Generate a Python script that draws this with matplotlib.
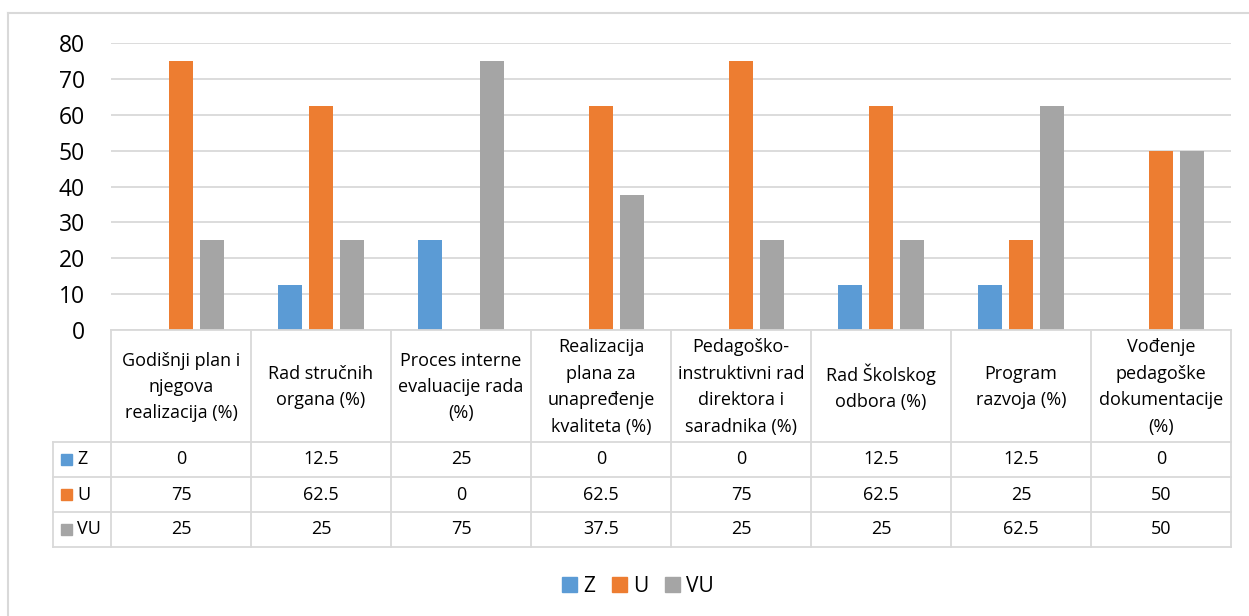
import matplotlib
matplotlib.use("Agg")
import matplotlib.pyplot as plt
import numpy as np
from matplotlib.patches import Rectangle
from matplotlib.lines import Line2D

plt.rcParams['font.family'] = ['Open Sans', 'DejaVu Sans']

categories = [
    "Godišnji plan i\nnjegova\nrealizacija (%)",
    "Rad stručnih\norgana (%)",
    "Proces interne\nevaluacije rada\n(%)",
    "Realizacija\nplana za\nunapređenje\nkvaliteta (%)",
    "Pedagoško-\ninstruktivni rad\ndirektora i\nsaradnika (%)",
    "Rad Školskog\nodbora (%)",
    "Program\nrazvoja (%)",
    "Vođenje\npedagoške\ndokumentacije\n(%)",
]
series_names = ["Z", "U", "VU"]
z_values = [0, 12.5, 25, 0, 0, 12.5, 12.5, 0]
u_values = [75, 62.5, 0, 62.5, 75, 62.5, 25, 50]
vu_values = [25, 25, 75, 37.5, 25, 25, 62.5, 50]
yticks = [0, 10, 20, 30, 40, 50, 60, 70, 80]
colors = ["#5B9BD5", "#ED7D31", "#A5A5A5"]

W, H = 1249, 616
fig = plt.figure(figsize=(W / 100, H / 100), dpi=100)
grid_c = "#D9D9D9"

def fx(px):
    return px / W

def fy(py):
    return 1 - py / H

ax_l, ax_r, ax_t, ax_b = 111, 1231, 43, 330
ax = fig.add_axes([fx(ax_l), fy(ax_b), fx(ax_r - ax_l), (ax_b - ax_t) / H])
n = len(categories)
x = np.arange(n)
bw = 0.174
step = 0.22
all_vals = [z_values, u_values, vu_values]
for k, (vals, c) in enumerate(zip(all_vals, colors)):
    ax.bar(x + (k - 1) * step, vals, width=bw, color=c, zorder=3)
ax.set_xlim(-0.5, n - 0.5)
ax.set_ylim(0, 80)
ax.set_yticks(yticks)
ax.yaxis.grid(True, color=grid_c, linewidth=1.3, zorder=0)
ax.set_xticks([])
for s in ax.spines.values():
    s.set_visible(False)
ax.tick_params(axis='y', length=0, pad=18.7, labelsize=16.5, labelcolor="#000000")

# table axes, x in category units, y in pixels
left_col = 53
cat_w = (ax_r - ax_l) / n
tab_top, hdr_bot, tab_bot = 330, 442, 547
row_h = (tab_bot - hdr_bot) / 3
tax = fig.add_axes([fx(left_col), fy(tab_bot), fx(ax_r - left_col), (tab_bot - tab_top) / H])
tax.set_xlim(-0.5 - (ax_l - left_col) / cat_w, n - 0.5)
tax.set_ylim(tab_bot, tab_top)
tax.axis('off')
lw = 1.3
tax.plot([-0.5, n - 0.5], [tab_top, tab_top], color=grid_c, lw=lw, clip_on=False)
for r in range(4):
    yy = hdr_bot + r * row_h
    tax.plot([tax.get_xlim()[0], n - 0.5], [yy, yy], color=grid_c, lw=lw, clip_on=False)
for i in range(n + 1):
    tax.plot([i - 0.5, i - 0.5], [tab_top, tab_bot], color=grid_c, lw=lw, clip_on=False)
tax.plot([tax.get_xlim()[0]] * 2, [hdr_bot, tab_bot], color=grid_c, lw=lw, clip_on=False)

fs = 13
for i, cat in enumerate(categories):
    tax.text(i, (tab_top + hdr_bot) / 2 + 1, cat, ha='center', va='center', fontsize=fs,
             linespacing=1.6)
xl0 = tax.get_xlim()[0]
for r, (name, vals, c) in enumerate(zip(series_names, all_vals, colors)):
    yc = hdr_bot + (r + 0.5) * row_h
    tax.add_patch(Rectangle((xl0 + 8 / cat_w, yc - 5.5), 11 / cat_w, 11, color=c, clip_on=False))
    tax.text(xl0 + 24 / cat_w, yc, name, ha='left', va='center', fontsize=fs)
    for i, v in enumerate(vals):
        tax.text(i, yc, f"{v:g}", ha='center', va='center', fontsize=fs)

# legend
handles = [Rectangle((0, 0), 1, 1, color=c) for c in colors]
fig.legend(handles, series_names, loc='center', bbox_to_anchor=(fx(638), fy(586)), ncol=3,
           frameon=False, handlelength=0.72, handleheight=0.72,
           handletextpad=0.3, columnspacing=0.8, prop={'size': 15})

# outer border
fig.add_artist(Line2D([fx(7.5), fx(7.5)], [fy(13), 0], color=grid_c, lw=1.5))
fig.add_artist(Line2D([fx(7.5), 1], [fy(13), fy(13)], color=grid_c, lw=1.5))

fig.savefig("out.png", dpi=100, facecolor="white")
